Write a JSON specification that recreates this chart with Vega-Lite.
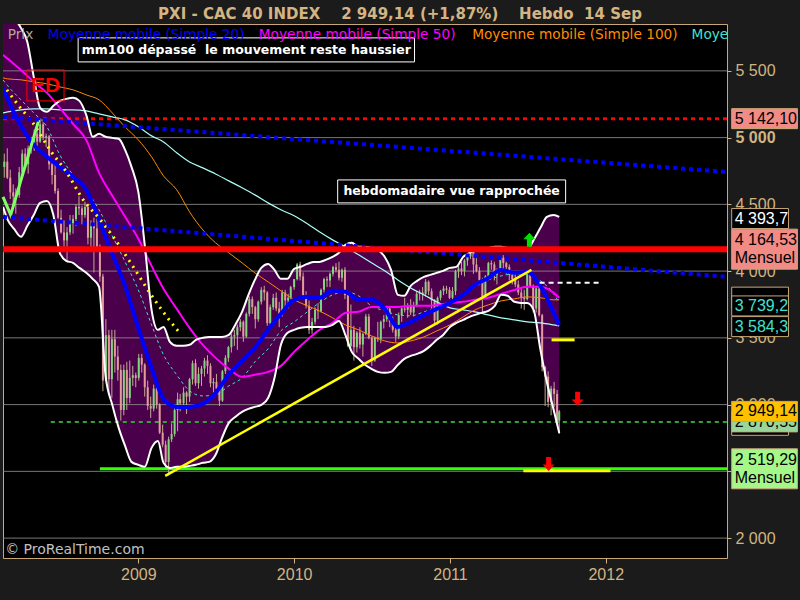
{
"$schema": "https://vega.github.io/schema/vega-lite/v6.json",
"width": 724, "height": 534,
"autosize": {"type": "none"},
"padding": {"left": 3, "top": 24, "right": 73, "bottom": 42},
"background": "#1b1b1b",
"title": {"text": "PXI - CAC 40 INDEX\u00a0\u00a0\u00a0\u00a02 949,14 (+1,87%)\u00a0\u00a0\u00a0\u00a0Hebdo\u00a0\u00a014 Sep", "frame": "group", "anchor": "middle", "dx": 35, "dy": 15, "offset": 5, "baseline": "alphabetic", "font": "DejaVu Sans", "fontSize": 15, "fontWeight": "bold", "color": "#d4b483"},
"config": {"view": {"fill": "#000000", "stroke": "#c8a878", "strokeWidth": 1}},
"datasets": {
"c": [
{"d":"2008-02-22","o":4780,"h":4880,"l":4700,"c":4820},
{"d":"2008-02-29","o":4820,"h":4920,"l":4690,"c":4700},
{"d":"2008-03-07","o":4700,"h":4760,"l":4540,"c":4590},
{"d":"2008-03-14","o":4590,"h":4650,"l":4470,"c":4560},
{"d":"2008-03-20","o":4560,"h":4620,"l":4430,"c":4570},
{"d":"2008-03-28","o":4570,"h":4780,"l":4550,"c":4740},
{"d":"2008-04-04","o":4740,"h":4910,"l":4700,"c":4880},
{"d":"2008-04-11","o":4880,"h":4920,"l":4770,"c":4800},
{"d":"2008-04-18","o":4800,"h":4940,"l":4730,"c":4920},
{"d":"2008-04-25","o":4920,"h":5000,"l":4880,"c":4960},
{"d":"2008-05-02","o":4960,"h":5060,"l":4900,"c":5030},
{"d":"2008-05-09","o":5030,"h":5060,"l":4930,"c":4970},
{"d":"2008-05-16","o":4970,"h":5130,"l":4960,"c":5100},
{"d":"2008-05-23","o":5100,"h":5140,"l":4980,"c":5000},
{"d":"2008-05-30","o":5000,"h":5030,"l":4930,"c":5010},
{"d":"2008-06-06","o":5010,"h":5020,"l":4760,"c":4800},
{"d":"2008-06-13","o":4800,"h":4830,"l":4650,"c":4720},
{"d":"2008-06-20","o":4720,"h":4800,"l":4580,"c":4600},
{"d":"2008-06-27","o":4600,"h":4620,"l":4390,"c":4400},
{"d":"2008-07-04","o":4400,"h":4460,"l":4280,"c":4290},
{"d":"2008-07-11","o":4290,"h":4380,"l":4160,"c":4230},
{"d":"2008-07-18","o":4230,"h":4330,"l":4080,"c":4290},
{"d":"2008-07-25","o":4290,"h":4420,"l":4270,"c":4360},
{"d":"2008-08-01","o":4360,"h":4420,"l":4280,"c":4390},
{"d":"2008-08-08","o":4390,"h":4500,"l":4340,"c":4480},
{"d":"2008-08-15","o":4480,"h":4560,"l":4420,"c":4470},
{"d":"2008-08-22","o":4470,"h":4490,"l":4350,"c":4420},
{"d":"2008-08-29","o":4420,"h":4520,"l":4400,"c":4480},
{"d":"2008-09-05","o":4480,"h":4500,"l":4200,"c":4250},
{"d":"2008-09-12","o":4250,"h":4380,"l":4180,"c":4340},
{"d":"2008-09-19","o":4340,"h":4400,"l":3990,"c":4320},
{"d":"2008-09-26","o":4320,"h":4410,"l":4150,"c":4180},
{"d":"2008-10-03","o":4180,"h":4200,"l":3920,"c":3960},
{"d":"2008-10-10","o":3960,"h":3980,"l":3100,"c":3180},
{"d":"2008-10-17","o":3180,"h":3640,"l":3180,"c":3520},
{"d":"2008-10-24","o":3520,"h":3560,"l":3080,"c":3190},
{"d":"2008-10-31","o":3190,"h":3560,"l":3050,"c":3490},
{"d":"2008-11-07","o":3490,"h":3560,"l":3240,"c":3360},
{"d":"2008-11-14","o":3360,"h":3440,"l":3180,"c":3260},
{"d":"2008-11-21","o":3260,"h":3300,"l":2880,"c":2960},
{"d":"2008-11-28","o":2960,"h":3300,"l":2920,"c":3260},
{"d":"2008-12-05","o":3260,"h":3320,"l":2960,"c":3050},
{"d":"2008-12-12","o":3050,"h":3330,"l":3010,"c":3200},
{"d":"2008-12-19","o":3200,"h":3290,"l":3140,"c":3220},
{"d":"2008-12-26","o":3220,"h":3240,"l":3130,"c":3200},
{"d":"2009-01-02","o":3200,"h":3380,"l":3180,"c":3350},
{"d":"2009-01-09","o":3350,"h":3380,"l":3240,"c":3300},
{"d":"2009-01-16","o":3300,"h":3310,"l":3060,"c":3130},
{"d":"2009-01-23","o":3130,"h":3180,"l":2960,"c":2990},
{"d":"2009-01-30","o":2990,"h":3060,"l":2900,"c":2970},
{"d":"2009-02-06","o":2970,"h":3150,"l":2950,"c":3120},
{"d":"2009-02-13","o":3120,"h":3180,"l":2970,"c":3000},
{"d":"2009-02-20","o":3000,"h":3010,"l":2780,"c":2790},
{"d":"2009-02-27","o":2790,"h":2850,"l":2680,"c":2700},
{"d":"2009-03-06","o":2700,"h":2730,"l":2520,"c":2570},
{"d":"2009-03-13","o":2570,"h":2760,"l":2470,"c":2740},
{"d":"2009-03-20","o":2740,"h":2860,"l":2720,"c":2780},
{"d":"2009-03-27","o":2780,"h":2980,"l":2760,"c":2960},
{"d":"2009-04-03","o":2960,"h":3090,"l":2800,"c":3040},
{"d":"2009-04-09","o":3040,"h":3080,"l":2950,"c":3010},
{"d":"2009-04-17","o":3010,"h":3130,"l":2990,"c":3090},
{"d":"2009-04-24","o":3090,"h":3100,"l":2930,"c":3060},
{"d":"2009-05-01","o":3060,"h":3200,"l":3020,"c":3190},
{"d":"2009-05-08","o":3190,"h":3330,"l":3150,"c":3310},
{"d":"2009-05-15","o":3310,"h":3340,"l":3140,"c":3160},
{"d":"2009-05-22","o":3160,"h":3280,"l":3120,"c":3230},
{"d":"2009-05-29","o":3230,"h":3290,"l":3140,"c":3270},
{"d":"2009-06-05","o":3270,"h":3350,"l":3210,"c":3330},
{"d":"2009-06-12","o":3330,"h":3370,"l":3230,"c":3290},
{"d":"2009-06-19","o":3290,"h":3310,"l":3130,"c":3160},
{"d":"2009-06-26","o":3160,"h":3200,"l":3080,"c":3170},
{"d":"2009-07-03","o":3170,"h":3230,"l":3090,"c":3120},
{"d":"2009-07-10","o":3120,"h":3140,"l":2990,"c":3030},
{"d":"2009-07-17","o":3030,"h":3260,"l":3020,"c":3250},
{"d":"2009-07-24","o":3250,"h":3370,"l":3230,"c":3350},
{"d":"2009-07-31","o":3350,"h":3440,"l":3320,"c":3430},
{"d":"2009-08-07","o":3430,"h":3530,"l":3390,"c":3510},
{"d":"2009-08-14","o":3510,"h":3560,"l":3440,"c":3520},
{"d":"2009-08-21","o":3520,"h":3600,"l":3410,"c":3580},
{"d":"2009-08-28","o":3580,"h":3640,"l":3550,"c":3620},
{"d":"2009-09-04","o":3620,"h":3630,"l":3470,"c":3510},
{"d":"2009-09-11","o":3510,"h":3690,"l":3500,"c":3680},
{"d":"2009-09-18","o":3680,"h":3810,"l":3660,"c":3790},
{"d":"2009-09-25","o":3790,"h":3810,"l":3680,"c":3730},
{"d":"2009-10-02","o":3730,"h":3740,"l":3570,"c":3640},
{"d":"2009-10-09","o":3640,"h":3780,"l":3620,"c":3770},
{"d":"2009-10-16","o":3770,"h":3880,"l":3750,"c":3860},
{"d":"2009-10-23","o":3860,"h":3890,"l":3780,"c":3840},
{"d":"2009-10-30","o":3840,"h":3850,"l":3590,"c":3610},
{"d":"2009-11-06","o":3610,"h":3750,"l":3580,"c":3730},
{"d":"2009-11-13","o":3730,"h":3830,"l":3710,"c":3800},
{"d":"2009-11-20","o":3800,"h":3840,"l":3700,"c":3720},
{"d":"2009-11-27","o":3720,"h":3770,"l":3580,"c":3680},
{"d":"2009-12-04","o":3680,"h":3860,"l":3660,"c":3840},
{"d":"2009-12-11","o":3840,"h":3860,"l":3730,"c":3780},
{"d":"2009-12-18","o":3780,"h":3830,"l":3720,"c":3800},
{"d":"2009-12-24","o":3800,"h":3890,"l":3790,"c":3880},
{"d":"2010-01-01","o":3880,"h":3940,"l":3860,"c":3940},
{"d":"2010-01-08","o":3940,"h":4060,"l":3930,"c":4050},
{"d":"2010-01-15","o":4050,"h":4070,"l":3930,"c":3960},
{"d":"2010-01-22","o":3960,"h":3990,"l":3800,"c":3820},
{"d":"2010-01-29","o":3820,"h":3850,"l":3720,"c":3740},
{"d":"2010-02-05","o":3740,"h":3780,"l":3530,"c":3560},
{"d":"2010-02-12","o":3560,"h":3650,"l":3530,"c":3620},
{"d":"2010-02-19","o":3620,"h":3730,"l":3600,"c":3710},
{"d":"2010-02-26","o":3710,"h":3760,"l":3640,"c":3700},
{"d":"2010-03-05","o":3700,"h":3870,"l":3690,"c":3860},
{"d":"2010-03-12","o":3860,"h":3950,"l":3840,"c":3940},
{"d":"2010-03-19","o":3940,"h":3960,"l":3880,"c":3930},
{"d":"2010-03-26","o":3930,"h":3990,"l":3880,"c":3980},
{"d":"2010-04-02","o":3980,"h":4040,"l":3960,"c":4030},
{"d":"2010-04-09","o":4030,"h":4060,"l":3990,"c":4010},
{"d":"2010-04-16","o":4010,"h":4070,"l":3930,"c":3950},
{"d":"2010-04-23","o":3950,"h":4020,"l":3920,"c":4010},
{"d":"2010-04-30","o":4010,"h":4030,"l":3790,"c":3820},
{"d":"2010-05-07","o":3820,"h":3830,"l":3430,"c":3440},
{"d":"2010-05-14","o":3440,"h":3750,"l":3430,"c":3560},
{"d":"2010-05-21","o":3560,"h":3590,"l":3330,"c":3430},
{"d":"2010-05-28","o":3430,"h":3550,"l":3390,"c":3540},
{"d":"2010-06-04","o":3540,"h":3580,"l":3420,"c":3450},
{"d":"2010-06-11","o":3450,"h":3540,"l":3360,"c":3530},
{"d":"2010-06-18","o":3530,"h":3680,"l":3520,"c":3660},
{"d":"2010-06-25","o":3660,"h":3680,"l":3490,"c":3500},
{"d":"2010-07-02","o":3500,"h":3510,"l":3290,"c":3330},
{"d":"2010-07-09","o":3330,"h":3510,"l":3320,"c":3500},
{"d":"2010-07-16","o":3500,"h":3620,"l":3470,"c":3490},
{"d":"2010-07-23","o":3490,"h":3630,"l":3460,"c":3620},
{"d":"2010-07-30","o":3620,"h":3670,"l":3570,"c":3640},
{"d":"2010-08-06","o":3640,"h":3740,"l":3620,"c":3720},
{"d":"2010-08-13","o":3720,"h":3730,"l":3580,"c":3620},
{"d":"2010-08-20","o":3620,"h":3660,"l":3540,"c":3560},
{"d":"2010-08-27","o":3560,"h":3580,"l":3470,"c":3510},
{"d":"2010-09-03","o":3510,"h":3690,"l":3490,"c":3670},
{"d":"2010-09-10","o":3670,"h":3730,"l":3620,"c":3720},
{"d":"2010-09-17","o":3720,"h":3800,"l":3690,"c":3710},
{"d":"2010-09-24","o":3710,"h":3760,"l":3650,"c":3740},
{"d":"2010-10-01","o":3740,"h":3790,"l":3670,"c":3690},
{"d":"2010-10-08","o":3690,"h":3770,"l":3660,"c":3740},
{"d":"2010-10-15","o":3740,"h":3850,"l":3730,"c":3830},
{"d":"2010-10-22","o":3830,"h":3860,"l":3780,"c":3840},
{"d":"2010-10-29","o":3840,"h":3880,"l":3780,"c":3830},
{"d":"2010-11-05","o":3830,"h":3940,"l":3810,"c":3920},
{"d":"2010-11-12","o":3920,"h":3930,"l":3820,"c":3850},
{"d":"2010-11-19","o":3850,"h":3870,"l":3720,"c":3780},
{"d":"2010-11-26","o":3780,"h":3790,"l":3600,"c":3630},
{"d":"2010-12-03","o":3630,"h":3810,"l":3600,"c":3800},
{"d":"2010-12-10","o":3800,"h":3860,"l":3780,"c":3850},
{"d":"2010-12-17","o":3850,"h":3890,"l":3820,"c":3870},
{"d":"2010-12-24","o":3870,"h":3890,"l":3830,"c":3860},
{"d":"2010-12-31","o":3860,"h":3880,"l":3790,"c":3800},
{"d":"2011-01-07","o":3800,"h":3880,"l":3780,"c":3850},
{"d":"2011-01-14","o":3850,"h":4010,"l":3820,"c":4000},
{"d":"2011-01-21","o":4000,"h":4040,"l":3950,"c":4020},
{"d":"2011-01-28","o":4020,"h":4070,"l":3970,"c":4000},
{"d":"2011-02-04","o":4000,"h":4090,"l":3960,"c":4080},
{"d":"2011-02-11","o":4080,"h":4120,"l":4040,"c":4110},
{"d":"2011-02-18","o":4110,"h":4170,"l":4090,"c":4160},
{"d":"2011-02-25","o":4160,"h":4165,"l":3980,"c":4050},
{"d":"2011-03-04","o":4050,"h":4100,"l":3990,"c":4000},
{"d":"2011-03-11","o":4000,"h":4030,"l":3900,"c":3930},
{"d":"2011-03-18","o":3930,"h":3950,"l":3690,"c":3810},
{"d":"2011-03-25","o":3810,"h":3970,"l":3800,"c":3960},
{"d":"2011-04-01","o":3960,"h":4070,"l":3950,"c":4060},
{"d":"2011-04-08","o":4060,"h":4080,"l":4010,"c":4050},
{"d":"2011-04-15","o":4050,"h":4070,"l":3930,"c":3970},
{"d":"2011-04-21","o":3970,"h":4020,"l":3900,"c":4000},
{"d":"2011-04-29","o":4000,"h":4110,"l":3990,"c":4100},
{"d":"2011-05-06","o":4100,"h":4120,"l":4010,"c":4060},
{"d":"2011-05-13","o":4060,"h":4070,"l":3980,"c":4030},
{"d":"2011-05-20","o":4030,"h":4050,"l":3930,"c":3970},
{"d":"2011-05-27","o":3970,"h":4000,"l":3900,"c":3940},
{"d":"2011-06-03","o":3940,"h":3980,"l":3880,"c":3900},
{"d":"2011-06-10","o":3900,"h":3930,"l":3820,"c":3840},
{"d":"2011-06-17","o":3840,"h":3870,"l":3720,"c":3800},
{"d":"2011-06-24","o":3800,"h":3860,"l":3710,"c":3790},
{"d":"2011-07-01","o":3790,"h":3990,"l":3780,"c":3980},
{"d":"2011-07-08","o":3980,"h":4010,"l":3880,"c":3890},
{"d":"2011-07-15","o":3890,"h":3900,"l":3690,"c":3720},
{"d":"2011-07-22","o":3720,"h":3880,"l":3690,"c":3870},
{"d":"2011-07-29","o":3870,"h":3890,"l":3660,"c":3670},
{"d":"2011-08-05","o":3670,"h":3680,"l":3250,"c":3280},
{"d":"2011-08-12","o":3280,"h":3290,"l":2990,"c":3210},
{"d":"2011-08-19","o":3210,"h":3250,"l":2980,"c":3020},
{"d":"2011-08-26","o":3020,"h":3140,"l":2920,"c":3120},
{"d":"2011-09-02","o":3120,"h":3170,"l":2980,"c":3080},
{"d":"2011-09-09","o":3080,"h":3110,"l":2850,"c":2880},
{"d":"2011-09-14","o":2880,"h":2960,"l":2780,"c":2949.14}
],
"ma": [
{"d":"2008-02-19","m20":5373,"m50":5620,"m100":5448,"m200":5185,"mc":5433},
{"d":"2008-03-01","m20":5290,"m50":5590,"m100":5440,"m200":5193,"mc":5388},
{"d":"2008-04-01","m20":5088,"m50":5507,"m100":5433,"m200":5208,"mc":5283},
{"d":"2008-05-01","m20":4946,"m50":5418,"m100":5418,"m200":5215,"mc":5185},
{"d":"2008-06-01","m20":4856,"m50":5335,"m100":5403,"m200":5215,"mc":5080},
{"d":"2008-07-01","m20":4781,"m50":5223,"m100":5380,"m200":5208,"mc":4871},
{"d":"2008-08-01","m20":4706,"m50":5103,"m100":5358,"m200":5208,"mc":4721},
{"d":"2008-09-01","m20":4609,"m50":4983,"m100":5320,"m200":5200,"mc":4609},
{"d":"2008-10-01","m20":4384,"m50":4736,"m100":5283,"m200":5178,"mc":4459},
{"d":"2008-11-01","m20":4129,"m50":4564,"m100":5185,"m200":5155,"mc":4264},
{"d":"2008-12-01","m20":3889,"m50":4407,"m100":5080,"m200":5133,"mc":4069},
{"d":"2009-01-01","m20":3575,"m50":4242,"m100":4983,"m200":5081,"mc":3859},
{"d":"2009-02-01","m20":3275,"m50":4039,"m100":4856,"m200":5013,"mc":3597},
{"d":"2009-03-01","m20":3043,"m50":3867,"m100":4713,"m200":4968,"mc":3373},
{"d":"2009-04-01","m20":2983,"m50":3717,"m100":4609,"m200":4886,"mc":3223},
{"d":"2009-05-01","m20":2983,"m50":3575,"m100":4444,"m200":4818,"mc":3103},
{"d":"2009-06-01","m20":3005,"m50":3447,"m100":4309,"m200":4773,"mc":3065},
{"d":"2009-07-01","m20":3088,"m50":3350,"m100":4212,"m200":4728,"mc":3073},
{"d":"2009-08-01","m20":3223,"m50":3268,"m100":4137,"m200":4676,"mc":3140},
{"d":"2009-09-01","m20":3328,"m50":3208,"m100":4062,"m200":4624,"mc":3200},
{"d":"2009-10-01","m20":3425,"m50":3223,"m100":3987,"m200":4571,"mc":3320},
{"d":"2009-11-01","m20":3560,"m50":3245,"m100":3919,"m200":4511,"mc":3418},
{"d":"2009-12-01","m20":3680,"m50":3290,"m100":3852,"m200":4459,"mc":3552},
{"d":"2010-01-01","m20":3785,"m50":3395,"m100":3785,"m200":4414,"mc":3620},
{"d":"2010-02-01","m20":3807,"m50":3485,"m100":3740,"m200":4354,"mc":3695},
{"d":"2010-03-01","m20":3800,"m50":3560,"m100":3702,"m200":4294,"mc":3762},
{"d":"2010-04-01","m20":3852,"m50":3612,"m100":3650,"m200":4234,"mc":3822},
{"d":"2010-05-01","m20":3845,"m50":3687,"m100":3597,"m200":4182,"mc":3845},
{"d":"2010-06-01","m20":3785,"m50":3695,"m100":3560,"m200":4122,"mc":3815},
{"d":"2010-07-01","m20":3785,"m50":3732,"m100":3515,"m200":4062,"mc":3740},
{"d":"2010-08-01","m20":3717,"m50":3732,"m100":3477,"m200":4002,"mc":3702},
{"d":"2010-09-01","m20":3582,"m50":3732,"m100":3462,"m200":3934,"mc":3672},
{"d":"2010-10-01","m20":3620,"m50":3740,"m100":3477,"m200":3874,"mc":3665},
{"d":"2010-11-01","m20":3672,"m50":3740,"m100":3507,"m200":3822,"mc":3695},
{"d":"2010-12-01","m20":3717,"m50":3747,"m100":3552,"m200":3770,"mc":3725},
{"d":"2011-01-01","m20":3762,"m50":3762,"m100":3597,"m200":3725,"mc":3770},
{"d":"2011-02-01","m20":3822,"m50":3770,"m100":3657,"m200":3710,"mc":3822},
{"d":"2011-03-01","m20":3897,"m50":3785,"m100":3710,"m200":3695,"mc":3882},
{"d":"2011-04-01","m20":3949,"m50":3800,"m100":3747,"m200":3672,"mc":3934},
{"d":"2011-05-01","m20":4009,"m50":3829,"m100":3777,"m200":3650,"mc":3964},
{"d":"2011-06-01","m20":3987,"m50":3859,"m100":3792,"m200":3635,"mc":3979},
{"d":"2011-07-01","m20":3994,"m50":3882,"m100":3807,"m200":3620,"mc":3979},
{"d":"2011-08-01","m20":3889,"m50":3882,"m100":3800,"m200":3612,"mc":3927},
{"d":"2011-09-01","m20":3687,"m50":3837,"m100":3785,"m200":3597,"mc":3830},
{"d":"2011-09-14","m20":3597,"m50":3800,"m100":3785,"m200":3590,"mc":3762}
],
"band": [
{"d":"2008-02-19","u":6000,"l":4481},{"d":"2008-03-01","u":5957,"l":4384},{"d":"2008-03-16","u":5897,"l":4316},
{"d":"2008-04-01","u":5822,"l":4257},{"d":"2008-04-16","u":5717,"l":4339},{"d":"2008-05-01","u":5455,"l":4421},
{"d":"2008-05-16","u":5223,"l":4511},{"d":"2008-06-01","u":5193,"l":4526},{"d":"2008-06-16","u":5238,"l":4421},
{"d":"2008-07-01","u":5275,"l":4137},{"d":"2008-07-16","u":5290,"l":4077},{"d":"2008-08-01","u":5298,"l":4062},
{"d":"2008-08-16","u":5275,"l":4024},{"d":"2008-09-01","u":5170,"l":3987},{"d":"2008-09-16","u":5006,"l":3942},
{"d":"2008-10-01","u":5028,"l":3882},{"d":"2008-10-16","u":5006,"l":3223},{"d":"2008-11-01","u":4998,"l":2998},
{"d":"2008-11-16","u":4991,"l":2826},{"d":"2008-12-01","u":4908,"l":2691},{"d":"2008-12-16","u":4781,"l":2571},
{"d":"2009-01-01","u":4594,"l":2549},{"d":"2009-01-16","u":4197,"l":2534},{"d":"2009-02-01","u":3710,"l":2676},
{"d":"2009-02-16","u":3560,"l":2728},{"d":"2009-03-01","u":3582,"l":2564},{"d":"2009-03-16","u":3470,"l":2526},
{"d":"2009-04-01","u":3440,"l":2534},{"d":"2009-04-16","u":3440,"l":2534},{"d":"2009-05-01","u":3448,"l":2541},
{"d":"2009-05-16","u":3485,"l":2549},{"d":"2009-06-01","u":3500,"l":2564},{"d":"2009-06-16","u":3507,"l":2571},
{"d":"2009-07-01","u":3507,"l":2624},{"d":"2009-07-16","u":3507,"l":2751},{"d":"2009-08-01","u":3522,"l":2863},
{"d":"2009-08-16","u":3597,"l":2908},{"d":"2009-09-01","u":3695,"l":2946},{"d":"2009-09-16","u":3822,"l":2968},
{"d":"2009-10-01","u":3934,"l":2983},{"d":"2009-10-16","u":4024,"l":2998},{"d":"2009-11-01","u":4054,"l":3050},
{"d":"2009-11-16","u":4009,"l":3200},{"d":"2009-12-01","u":3942,"l":3448},{"d":"2009-12-16","u":3942,"l":3537},
{"d":"2010-01-01","u":4017,"l":3560},{"d":"2010-01-16","u":4032,"l":3575},{"d":"2010-02-01","u":4054,"l":3582},
{"d":"2010-02-16","u":4069,"l":3582},{"d":"2010-03-01","u":4069,"l":3582},{"d":"2010-03-16","u":4084,"l":3582},
{"d":"2010-04-01","u":4107,"l":3597},{"d":"2010-04-16","u":4137,"l":3627},{"d":"2010-05-01","u":4197,"l":3522},
{"d":"2010-05-16","u":4212,"l":3395},{"d":"2010-06-01","u":4182,"l":3343},{"d":"2010-06-16","u":4182,"l":3298},
{"d":"2010-07-01","u":4174,"l":3268},{"d":"2010-07-16","u":4159,"l":3245},{"d":"2010-08-01","u":4107,"l":3238},
{"d":"2010-08-16","u":4009,"l":3245},{"d":"2010-09-01","u":3822,"l":3298},{"d":"2010-09-16","u":3815,"l":3343},
{"d":"2010-10-01","u":3889,"l":3365},{"d":"2010-10-16","u":3927,"l":3380},{"d":"2010-11-01","u":3957,"l":3403},
{"d":"2010-11-16","u":3972,"l":3440},{"d":"2010-12-01","u":3987,"l":3485},{"d":"2010-12-16","u":4002,"l":3522},
{"d":"2011-01-01","u":4024,"l":3582},{"d":"2011-01-16","u":4032,"l":3612},{"d":"2011-02-01","u":4107,"l":3635},
{"d":"2011-02-16","u":4137,"l":3657},{"d":"2011-03-01","u":4152,"l":3672},{"d":"2011-03-16","u":4167,"l":3687},
{"d":"2011-04-01","u":4174,"l":3702},{"d":"2011-04-16","u":4182,"l":3740},{"d":"2011-05-01","u":4182,"l":3822},
{"d":"2011-05-16","u":4174,"l":3815},{"d":"2011-06-01","u":4167,"l":3770},{"d":"2011-06-16","u":4159,"l":3762},
{"d":"2011-07-01","u":4159,"l":3762},{"d":"2011-07-16","u":4234,"l":3710},{"d":"2011-08-01","u":4324,"l":3410},
{"d":"2011-08-16","u":4406,"l":3170},{"d":"2011-09-01","u":4421,"l":2960},{"d":"2011-09-14","u":4406,"l":2788}
],
"tags": [
{"k":"red1","v":5142.1,"t":"5 142,10"},
{"k":"bbu","v":4393.7,"t":"4 393,7"},
{"k":"red2","v":4164.53,"t":"4 164,53\nMensuel"},
{"k":"m50","v":3805,"t":""},
{"k":"mc","v":3739.2,"t":"3 739,2"},
{"k":"m200","v":3584.3,"t":"3 584,3"},
{"k":"low","v":2845,"t":"2 621,5"},
{"k":"grn1","v":2870.55,"t":"2 870,55"},
{"k":"last","v":2949.14,"t":"2 949,14"},
{"k":"grn2","v":2519.29,"t":"2 519,29\nMensuel"}
],
"legend": [
{"k":"p","d":"2008-03-01","t":"Prix"},
{"k":"m20","d":"2008-06-03","t":"Moyenne mobile (Simple 20)"},
{"k":"m50","d":"2009-10-10","t":"Moyenne mobile (Simple 50)"},
{"k":"m100","d":"2011-02-22","t":"Moyenne mobile (Simple 100)"},
{"k":"m200","d":"2012-07-20","t":"Moyenne mobile (Simple 200)"}
]
},
"layer": [
{"data": {"name": "band"},
 "mark": {"type": "area", "interpolate": "monotone", "clip": true, "color": "#4b004b"},
 "encoding": {
  "x": {"field": "d", "type": "temporal",
   "scale": {"domain": [{"year": 2008, "month": 2, "date": 19}, {"year": 2012, "month": 10, "date": 11}], "nice": false, "padding": 0},
   "axis": {"title": null, "format": "%Y", "values": [{"year": 2009, "month": 1, "date": 1}, {"year": 2010, "month": 1, "date": 1}, {"year": 2011, "month": 1, "date": 1}, {"year": 2012, "month": 1, "date": 1}], "grid": false, "domain": false, "tickColor": "#d2b482", "tickSize": 5, "labelColor": "#d2b482", "labelFont": "Liberation Sans", "labelFontSize": 16, "labelPadding": 3}},
  "y": {"field": "u", "type": "quantitative",
   "scale": {"domain": [1851, 5851], "zero": false, "nice": false},
   "axis": {"title": null, "orient": "right", "values": [2000, 2500, 3000, 3500, 4000, 4500, 5000, 5500], "labelExpr": "replace(format(datum.value, ',d'), ',', ' ')", "grid": false, "domain": false, "tickSize": 4, "tickColor": "#d2b482", "labelColor": "#d2b482", "labelFont": "Liberation Sans", "labelFontSize": 16, "labelPadding": 4, "labelFontWeight": {"condition": {"test": "datum.value == 5000", "value": "bold"}, "value": "normal"}}},
  "y2": {"field": "l"}
 }},
{"data": {"values": [{"g":2000},{"g":2500},{"g":3000},{"g":3500},{"g":4000},{"g":4500},{"g":5000},{"g":5500}]},
 "mark": {"type": "rule", "color": "#8c8c8c", "strokeWidth": 1, "opacity": 0.85},
 "encoding": {"y": {"field": "g", "type": "quantitative"}}},
{"data": {"values": [{"v": 5142.1}]},
 "mark": {"type": "rule", "color": "#ff0000", "strokeWidth": 3, "strokeDash": [4, 4]},
 "encoding": {"y": {"field": "v", "type": "quantitative"}}},
{"data": {"values": [{"d": "2008-06-10", "d2": "2012-10-11", "v": 2870.55}]},
 "mark": {"type": "rule", "color": "#2fa82f", "strokeWidth": 2, "strokeDash": [4, 4]},
 "encoding": {"x": {"field": "d", "type": "temporal"}, "x2": {"field": "d2"}, "y": {"field": "v", "type": "quantitative"}}},
{"data": {"values": [{"d": "2008-10-03", "d2": "2012-10-11", "v": 2519.29}]},
 "mark": {"type": "rule", "color": "#33ff00", "strokeWidth": 3},
 "encoding": {"x": {"field": "d", "type": "temporal"}, "x2": {"field": "d2"}, "y": {"field": "v", "type": "quantitative"}}},
{"data": {"name": "c"},
 "mark": {"type": "rule", "color": "#c2ab90", "strokeWidth": 1},
 "encoding": {"x": {"field": "d", "type": "temporal"}, "y": {"field": "l", "type": "quantitative"}, "y2": {"field": "h"}}},
{"data": {"name": "c"},
 "mark": {"type": "bar", "size": 2},
 "encoding": {"x": {"field": "d", "type": "temporal"}, "y": {"field": "o", "type": "quantitative"}, "y2": {"field": "c"},
  "color": {"condition": {"test": "datum.o > datum.c", "value": "#e29a9a"}, "value": "#7fd67f"}}},
{"data": {"name": "ma"}, "mark": {"type": "line", "interpolate": "monotone", "clip": true, "color": "#40e0d0", "strokeWidth": 1, "strokeDash": [3, 3]},
 "encoding": {"x": {"field": "d", "type": "temporal"}, "y": {"field": "mc", "type": "quantitative"}}},
{"data": {"name": "ma"}, "mark": {"type": "line", "interpolate": "monotone", "clip": true, "color": "#a8fff4", "strokeWidth": 1.2},
 "encoding": {"x": {"field": "d", "type": "temporal"}, "y": {"field": "m200", "type": "quantitative"}}},
{"data": {"name": "ma"}, "mark": {"type": "line", "interpolate": "monotone", "clip": true, "color": "#ff8c00", "strokeWidth": 1},
 "encoding": {"x": {"field": "d", "type": "temporal"}, "y": {"field": "m100", "type": "quantitative"}}},
{"data": {"name": "ma"}, "mark": {"type": "line", "interpolate": "monotone", "clip": true, "color": "#ff00ff", "strokeWidth": 2},
 "encoding": {"x": {"field": "d", "type": "temporal"}, "y": {"field": "m50", "type": "quantitative"}}},
{"data": {"name": "ma"}, "mark": {"type": "line", "interpolate": "monotone", "clip": true, "color": "#0000ff", "strokeWidth": 4},
 "encoding": {"x": {"field": "d", "type": "temporal"}, "y": {"field": "m20", "type": "quantitative"}}},
{"data": {"name": "band"}, "mark": {"type": "line", "interpolate": "monotone", "clip": true, "color": "#ffffff", "strokeWidth": 2},
 "encoding": {"x": {"field": "d", "type": "temporal"}, "y": {"field": "u", "type": "quantitative"}}},
{"data": {"name": "band"}, "mark": {"type": "line", "interpolate": "monotone", "clip": true, "color": "#ffffff", "strokeWidth": 2},
 "encoding": {"x": {"field": "d", "type": "temporal"}, "y": {"field": "l", "type": "quantitative"}}},
{"data": {"values": [{"d":"2008-02-28","v":5358},{"d":"2008-03-29","v":5230},{"d":"2008-04-29","v":5110},{"d":"2008-06-08","v":4908},{"d":"2008-07-18","v":4736},{"d":"2008-08-25","v":4534},{"d":"2008-10-04","v":4384},{"d":"2008-11-13","v":4212},{"d":"2008-12-20","v":4032},{"d":"2009-01-28","v":3837},{"d":"2009-03-09","v":3657},{"d":"2009-04-08","v":3537}]},
 "mark": {"type": "line", "interpolate": "monotone", "color": "#ffff00", "strokeWidth": 3, "strokeDash": [2, 5]},
 "encoding": {"x": {"field": "d", "type": "temporal"}, "y": {"field": "v", "type": "quantitative"}}},
{"data": {"values": [{"d":"2008-02-19","v":4556},{"d":"2008-03-08","v":4421},{"d":"2008-05-13","v":5133}]},
 "mark": {"type": "line", "color": "#80ff60", "strokeWidth": 3},
 "encoding": {"x": {"field": "d", "type": "temporal"}, "y": {"field": "v", "type": "quantitative"}}},
{"data": {"values": [{"d":"2009-03-05","v":2466},{"d":"2011-07-11","v":4009}]},
 "mark": {"type": "line", "color": "#ffff00", "strokeWidth": 2.5},
 "encoding": {"x": {"field": "d", "type": "temporal"}, "y": {"field": "v", "type": "quantitative"}}},
{"data": {"values": [{"d":"2008-02-19","v":5155},{"d":"2012-10-11","v":4743}]},
 "mark": {"type": "line", "color": "#0000ff", "strokeWidth": 4, "strokeDash": [4, 4]},
 "encoding": {"x": {"field": "d", "type": "temporal"}, "y": {"field": "v", "type": "quantitative"}}},
{"data": {"values": [{"d":"2008-02-19","v":4406},{"d":"2012-10-11","v":3957}]},
 "mark": {"type": "line", "color": "#0000ff", "strokeWidth": 4, "strokeDash": [4, 4]},
 "encoding": {"x": {"field": "d", "type": "temporal"}, "y": {"field": "v", "type": "quantitative"}}},
{"data": {"values": [{"v": 4164.53}]},
 "mark": {"type": "rule", "color": "#ff0000", "strokeWidth": 6},
 "encoding": {"y": {"field": "v", "type": "quantitative"}}},
{"data": {"values": [{"d": "2011-07-30", "d2": "2011-12-24", "v": 3912}]},
 "mark": {"type": "rule", "color": "#ffffff", "strokeWidth": 2, "strokeDash": [5, 4]},
 "encoding": {"x": {"field": "d", "type": "temporal"}, "x2": {"field": "d2"}, "y": {"field": "v", "type": "quantitative"}}},
{"data": {"values": [{"d": "2011-08-27", "d2": "2011-10-20", "v": 3485}, {"d": "2011-06-22", "d2": "2012-01-12", "v": 2504}]},
 "mark": {"type": "rule", "color": "#ffff00", "strokeWidth": 3},
 "encoding": {"x": {"field": "d", "type": "temporal"}, "x2": {"field": "d2"}, "y": {"field": "v", "type": "quantitative"}}},
{"data": {"values": [{"d": "2011-07-06", "v": 4234}]},
 "mark": {"type": "point", "filled": true, "color": "#00dd00", "opacity": 1, "size": 196, "shape": "M-0.35,1L0.35,1L0.35,-0.1L0.85,-0.1L0,-1L-0.85,-0.1L-0.35,-0.1Z"},
 "encoding": {"x": {"field": "d", "type": "temporal"}, "y": {"field": "v", "type": "quantitative"}}},
{"data": {"values": [{"d": "2011-10-27", "v": 3043}, {"d": "2011-08-20", "v": 2556}]},
 "mark": {"type": "point", "filled": true, "color": "#ff0000", "opacity": 1, "size": 196, "shape": "M-0.35,-1L0.35,-1L0.35,0.1L0.85,0.1L0,1L-0.85,0.1L-0.35,0.1Z"},
 "encoding": {"x": {"field": "d", "type": "temporal"}, "y": {"field": "v", "type": "quantitative"}}},
{"data": {"values": [{"d": "2008-08-13", "d2": "2010-10-10", "v": 5747, "v2": 5567}, {"d": "2010-04-13", "d2": "2011-09-29", "v": 4683, "v2": 4511}]},
 "mark": {"type": "rect", "fill": "#000000", "stroke": "#ffffff", "strokeWidth": 1},
 "encoding": {"x": {"field": "d", "type": "temporal"}, "x2": {"field": "d2"}, "y": {"field": "v", "type": "quantitative"}, "y2": {"field": "v2"}}},
{"data": {"values": [{"d": "2009-09-11", "v": 5657, "t": "mm100 dépassé\u00a0 le mouvement reste haussier"}, {"d": "2011-01-05", "v": 4597, "t": "hebdomadaire vue rapprochée"}]},
 "mark": {"type": "text", "font": "DejaVu Sans", "fontSize": 12.5, "fontWeight": "bold", "color": "#ffffff", "align": "center", "baseline": "middle"},
 "encoding": {"x": {"field": "d", "type": "temporal"}, "y": {"field": "v", "type": "quantitative"}, "text": {"field": "t"}}},
{"data": {"values": [{"d": "2008-04-15", "d2": "2008-07-11", "v": 5507, "v2": 5275}]},
 "mark": {"type": "rect", "fillOpacity": 0, "stroke": "#ff0000", "strokeWidth": 1},
 "encoding": {"x": {"field": "d", "type": "temporal"}, "x2": {"field": "d2"}, "y": {"field": "v", "type": "quantitative"}, "y2": {"field": "v2"}}},
{"data": {"values": [{"d": "2008-05-29", "v": 5385, "t": "ED"}]},
 "mark": {"type": "text", "font": "Liberation Sans", "fontSize": 21, "fontWeight": "bold", "color": "#ff0000", "align": "center", "baseline": "middle"},
 "encoding": {"x": {"field": "d", "type": "temporal"}, "y": {"field": "v", "type": "quantitative"}, "text": {"field": "t"}}},
{"data": {"values": [{"d": "2008-02-24", "v": 1912, "t": "© ProRealTime.com"}]},
 "mark": {"type": "text", "font": "DejaVu Sans", "fontSize": 14, "color": "#c0c0c0", "align": "left", "baseline": "middle"},
 "encoding": {"x": {"field": "d", "type": "temporal"}, "y": {"field": "v", "type": "quantitative"}, "text": {"field": "t"}}},
{"data": {"name": "legend"},
 "mark": {"type": "text", "font": "DejaVu Sans", "fontSize": 13.7, "align": "left", "baseline": "middle", "clip": true},
 "encoding": {"x": {"field": "d", "type": "temporal"}, "y": {"datum": 5770, "type": "quantitative"}, "text": {"field": "t"},
  "color": {"condition": [{"test": "datum.k == 'p'", "value": "#b4a898"}, {"test": "datum.k == 'm20'", "value": "#0000ff"}, {"test": "datum.k == 'm50'", "value": "#ff00ff"}, {"test": "datum.k == 'm100'", "value": "#ff8c00"}], "value": "#40e0d0"}}},
{"data": {"name": "tags"},
 "transform": [{"filter": "indexof(['bbu','m50','mc','m200','low'], datum.k) >= 0"}],
 "mark": {"type": "rect", "fill": "#000000", "stroke": "#c8a878", "strokeWidth": 1, "yOffset": -10, "y2Offset": 10},
 "encoding": {"x": {"datum": {"year": 2012, "month": 10, "date": 22}, "type": "temporal"}, "x2": {"datum": {"year": 2013, "month": 3, "date": 4}},
  "y": {"field": "v", "type": "quantitative"}, "y2": {"field": "v"}}},
{"data": {"name": "tags"},
 "transform": [{"filter": "datum.k == 'low'"}],
 "mark": {"type": "text", "font": "Liberation Sans", "fontSize": 16, "align": "left", "baseline": "middle", "color": "#ffffff"},
 "encoding": {"x": {"datum": {"year": 2012, "month": 10, "date": 29}, "type": "temporal"}, "y": {"field": "v", "type": "quantitative"}, "text": {"field": "t"}}},
{"data": {"name": "tags"},
 "transform": [{"filter": "datum.k == 'grn1'"}],
 "mark": {"type": "rect", "fill": "#99d699", "stroke": "#c8a878", "strokeWidth": 1, "yOffset": -10, "y2Offset": 10},
 "encoding": {"x": {"datum": {"year": 2012, "month": 10, "date": 22}, "type": "temporal"}, "x2": {"datum": {"year": 2013, "month": 3, "date": 25}},
  "y": {"field": "v", "type": "quantitative"}, "y2": {"field": "v"}}},
{"data": {"name": "tags"},
 "transform": [{"filter": "datum.k == 'grn1'"}],
 "mark": {"type": "text", "font": "Liberation Sans", "fontSize": 16, "align": "left", "baseline": "middle", "color": "#000000"},
 "encoding": {"x": {"datum": {"year": 2012, "month": 10, "date": 29}, "type": "temporal"}, "y": {"field": "v", "type": "quantitative"}, "text": {"field": "t"}}},
{"data": {"name": "tags"},
 "transform": [{"filter": "indexof(['red1','last'], datum.k) >= 0"}],
 "mark": {"type": "rect", "stroke": "#c8a878", "strokeWidth": 1, "yOffset": -10, "y2Offset": 10},
 "encoding": {"x": {"datum": {"year": 2012, "month": 10, "date": 22}, "type": "temporal"}, "x2": {"datum": {"year": 2013, "month": 3, "date": 25}},
  "y": {"field": "v", "type": "quantitative"}, "y2": {"field": "v"},
  "fill": {"condition": {"test": "datum.k == 'red1'", "value": "#f28b86"}, "value": "#ffc000"}}},
{"data": {"name": "tags"},
 "transform": [{"filter": "indexof(['red2','grn2'], datum.k) >= 0"}],
 "mark": {"type": "rect", "stroke": "#c8a878", "strokeWidth": 1, "yOffset": -20, "y2Offset": 20},
 "encoding": {"x": {"datum": {"year": 2012, "month": 10, "date": 22}, "type": "temporal"}, "x2": {"datum": {"year": 2013, "month": 3, "date": 25}},
  "y": {"field": "v", "type": "quantitative"}, "y2": {"field": "v"},
  "fill": {"condition": {"test": "datum.k == 'red2'", "value": "#f28b86"}, "value": "#a6f78a"}}},
{"data": {"name": "tags"},
 "transform": [{"filter": "datum.t != '' && indexof(datum.t, '\\n') < 0 && datum.k != 'low' && datum.k != 'grn1'"}],
 "mark": {"type": "text", "font": "Liberation Sans", "fontSize": 16, "align": "left", "baseline": "middle"},
 "encoding": {"x": {"datum": {"year": 2012, "month": 10, "date": 29}, "type": "temporal"}, "y": {"field": "v", "type": "quantitative"}, "text": {"field": "t"},
  "color": {"condition": [{"test": "datum.k == 'bbu'", "value": "#ffffff"}, {"test": "datum.k == 'mc' || datum.k == 'm200'", "value": "#40e0d0"}], "value": "#000000"}}},
{"data": {"name": "tags"},
 "transform": [{"filter": "indexof(datum.t, '\\n') >= 0"}],
 "mark": {"type": "text", "font": "Liberation Sans", "fontSize": 16, "align": "left", "baseline": "middle", "lineBreak": "\n", "lineHeight": 18, "dy": -9, "color": "#000000"},
 "encoding": {"x": {"datum": {"year": 2012, "month": 10, "date": 29}, "type": "temporal"}, "y": {"field": "v", "type": "quantitative"}, "text": {"field": "t"}}}
],
"resolve": {"axis": {"x": "shared", "y": "shared"}}
}
